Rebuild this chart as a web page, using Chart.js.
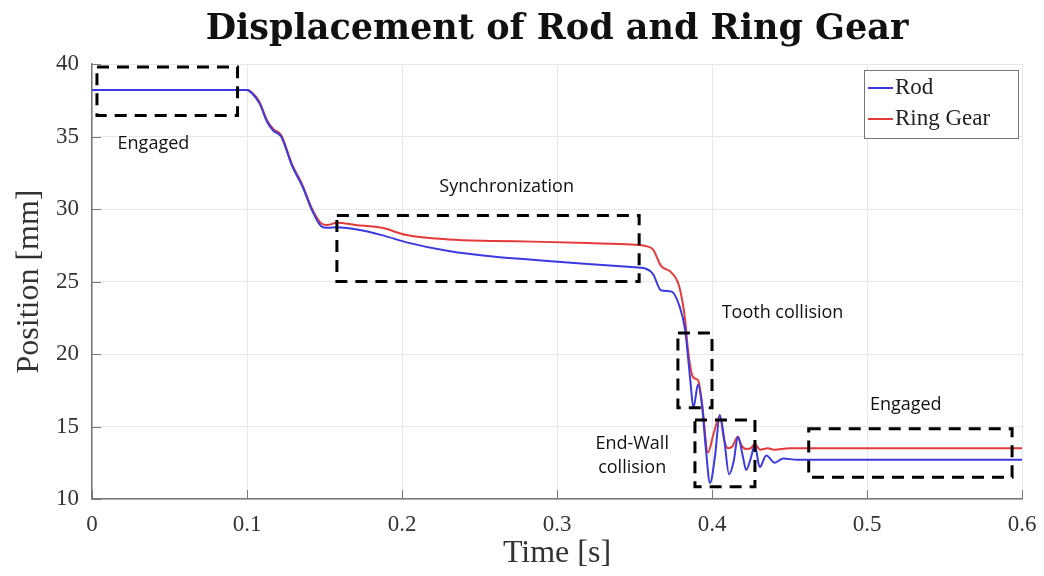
<!DOCTYPE html>
<html>
<head>
<meta charset="utf-8">
<script src="https://cdn.jsdelivr.net/npm/chart.js@4"></script>
<style>
  html, body { margin: 0; padding: 0; background: #fff; }
  #wrap { width: 1044px; height: 576px; }
</style>
</head>
<body>
<div id="wrap"><canvas id="chart" width="1044" height="576"></canvas></div>
<script>
// time [s] and position [mm]
const rodTime = [0, 0.1, 0.103, 0.108, 0.113, 0.117, 0.122, 0.129, 0.136, 0.142, 0.148, 0.152, 0.158, 0.17, 0.187, 0.203, 0.23, 0.26, 0.284, 0.32, 0.348, 0.357, 0.362, 0.367, 0.374, 0.379, 0.3826, 0.386, 0.388, 0.391, 0.3936, 0.396, 0.3987, 0.402, 0.405, 0.408, 0.411, 0.414, 0.4167, 0.42, 0.422, 0.425, 0.4276, 0.4308, 0.435, 0.4405, 0.446, 0.455, 0.6];
const rodPos = [38.2, 38.2, 38.0, 37.3, 36.0, 35.4, 35.0, 33.0, 31.5, 29.9, 28.8, 28.7, 28.75, 28.6, 28.2, 27.7, 27.1, 26.7, 26.5, 26.2, 26.0, 25.9, 25.5, 24.4, 24.3, 23.3, 21.7, 18.2, 16.3, 17.9, 16.4, 13.5, 11.1, 13.0, 15.8, 14.0, 11.7, 12.6, 14.3, 12.9, 12.0, 12.8, 13.7, 12.2, 13.0, 12.5, 12.8, 12.7, 12.7];

const ringTime = [0, 0.1, 0.103, 0.108, 0.113, 0.117, 0.122, 0.129, 0.136, 0.142, 0.148, 0.152, 0.158, 0.17, 0.187, 0.203, 0.23, 0.26, 0.284, 0.32, 0.348, 0.357, 0.362, 0.367, 0.374, 0.379, 0.3826, 0.3845, 0.387, 0.389, 0.391, 0.3936, 0.3974, 0.401, 0.405, 0.408, 0.4103, 0.413, 0.4167, 0.419, 0.422, 0.425, 0.4276, 0.431, 0.436, 0.44, 0.45, 0.6];
const ringPos = [38.2, 38.2, 38.05, 37.4, 36.1, 35.5, 35.1, 33.1, 31.6, 30.0, 29.0, 28.9, 29.05, 28.9, 28.7, 28.2, 27.9, 27.8, 27.75, 27.65, 27.55, 27.45, 27.2, 26.1, 25.6, 24.6, 22.4, 20.3, 18.6, 18.3, 18.2, 16.6, 13.2, 14.5, 15.7, 14.0, 13.5, 13.6, 14.3, 13.7, 13.45, 13.5, 13.8, 13.4, 13.5, 13.4, 13.5, 13.5];

const xTicks = [0, 0.1, 0.2, 0.3, 0.4, 0.5, 0.6];
const yTicks = [10, 15, 20, 25, 30, 35, 40];

// dashed boxes in data units: [t0, t1, pos0, pos1]
const phaseBoxes = [
  [0.0032, 0.0939, 36.45, 39.8],
  [0.158, 0.353, 25.0, 29.55],
  [0.378, 0.400, 16.3, 21.45],
  [0.389, 0.4277, 10.85, 15.45],
  [0.4624, 0.5936, 11.5, 14.85]
];
// phase labels: [text, t, pos, align]
const phaseLabels = [
  ["Engaged", 0.0165, 34.5, "left"],
  ["Synchronization", 0.2675, 31.5, "center"],
  ["Tooth collision", 0.4455, 22.85, "center"],
  ["End-Wall", 0.3485, 13.8, "center"],
  ["collision", 0.3485, 12.15, "center"],
  ["Engaged", 0.525, 16.5, "center"]
];

const blue = "#3a3ae0";
const red = "#e53a3a";
const serif = "'Liberation Serif', 'DejaVu Serif', serif";

const extras = {
  id: "extras",
  afterDraw(chart) {
    const c = chart.ctx;
    const xs = chart.scales.x, ys = chart.scales.y;
    const area = chart.chartArea;

    // inward ticks like matlab
    c.save();
    c.strokeStyle = "#7a7a7a";
    c.lineWidth = 1;
    xTicks.forEach(v => {
      const px = Math.round(xs.getPixelForValue(v)) + 0.5;
      c.beginPath(); c.moveTo(px, area.bottom); c.lineTo(px, area.bottom - 9); c.stroke();
    });
    yTicks.forEach(v => {
      const py = Math.round(ys.getPixelForValue(v)) + 0.5;
      c.beginPath(); c.moveTo(area.left, py); c.lineTo(area.left + 9, py); c.stroke();
    });
    c.restore();

    // dashed phase boxes
    c.save();
    c.strokeStyle = "#000";
    c.lineWidth = 3;
    c.setLineDash([12, 8]);
    phaseBoxes.forEach(b => {
      const x0 = xs.getPixelForValue(b[0]), x1 = xs.getPixelForValue(b[1]);
      const y0 = ys.getPixelForValue(b[3]), y1 = ys.getPixelForValue(b[2]);
      c.strokeRect(x0, y0, x1 - x0, y1 - y0);
    });
    c.restore();

    // labels
    c.save();
    c.fillStyle = "#111";
    c.font = "18px 'Open Sans', 'Noto Sans', sans-serif";
    c.textBaseline = "middle";
    phaseLabels.forEach(l => {
      c.textAlign = l[3];
      c.fillText(l[0], xs.getPixelForValue(l[1]), ys.getPixelForValue(l[2]));
    });
    c.restore();

    // legend box, top right inside the plot
    c.save();
    const lx = 864, ly = 70, lw = 154, lh = 68;
    c.fillStyle = "#fff";
    c.fillRect(lx, ly, lw, lh);
    c.strokeStyle = "#777";
    c.lineWidth = 1;
    c.strokeRect(lx + 0.5, ly + 0.5, lw, lh);
    const items = [["Rod", blue, 88], ["Ring Gear", red, 119]];
    c.font = "23px " + serif;
    c.textBaseline = "middle";
    c.textAlign = "left";
    items.forEach(it => {
      c.strokeStyle = it[1];
      c.lineWidth = 2;
      c.beginPath(); c.moveTo(lx + 4, it[2]); c.lineTo(lx + 29, it[2]); c.stroke();
      c.fillStyle = "#222";
      c.fillText(it[0], lx + 31, it[2]);
    });
    c.restore();
  }
};

const ctx = document.getElementById("chart").getContext("2d");

new Chart(ctx, {
  type: "line",
  data: {
    datasets: [
      {
        label: "Rod",
        data: rodTime.map((t, i) => ({ x: t, y: rodPos[i] })),
        borderColor: blue,
        borderWidth: 2,
        pointRadius: 0,
        cubicInterpolationMode: "monotone"
      },
      {
        label: "Ring Gear",
        data: ringTime.map((t, i) => ({ x: t, y: ringPos[i] })),
        borderColor: red,
        borderWidth: 2,
        pointRadius: 0,
        cubicInterpolationMode: "monotone"
      }
    ]
  },
  options: {
    responsive: false,
    animation: false,
    layout: { padding: { left: 0, right: 22, top: 0, bottom: 0 } },
    plugins: {
      legend: { display: false },
      tooltip: { enabled: false },
      title: {
        display: true,
        fullSize: false,
        text: "Displacement of Rod and Ring Gear",
        color: "#111",
        font: { family: "'DejaVu Serif', serif", size: 35, weight: "bold", lineHeight: 1.2 },
        padding: { top: 9, bottom: 13 }
      }
    },
    scales: {
      x: {
        type: "linear",
        min: 0,
        max: 0.6,
        afterFit: s => { s.height = 77; s.paddingRight = 0; s.paddingLeft = 0; },
        afterBuildTicks: s => { s.ticks = xTicks.map(v => ({ value: v })); },
        ticks: {
          color: "#333",
          font: { family: serif, size: 23 },
          padding: 12,
          maxRotation: 0,
          callback: v => String(v)
        },
        grid: { color: "#e8e8e8", drawTicks: false },
        border: { color: "#777", width: 1.5 },
        title: {
          display: true,
          text: "Time [s]",
          color: "#333",
          font: { family: serif, size: 32 },
          padding: { top: 0, bottom: 3 }
        }
      },
      y: {
        min: 10,
        max: 40,
        afterFit: s => { s.width = 92; },
        afterBuildTicks: s => { s.ticks = yTicks.map(v => ({ value: v })); },
        ticks: {
          color: "#333",
          font: { family: serif, size: 23 },
          padding: 13
        },
        grid: { color: "#e8e8e8", drawTicks: false },
        border: { color: "#777", width: 1.5 },
        title: {
          display: true,
          text: "Position [mm]",
          color: "#333",
          font: { family: serif, size: 32 },
          padding: { top: 10, bottom: 0 }
        }
      }
    }
  },
  plugins: [extras]
});
</script>
</body>
</html>
